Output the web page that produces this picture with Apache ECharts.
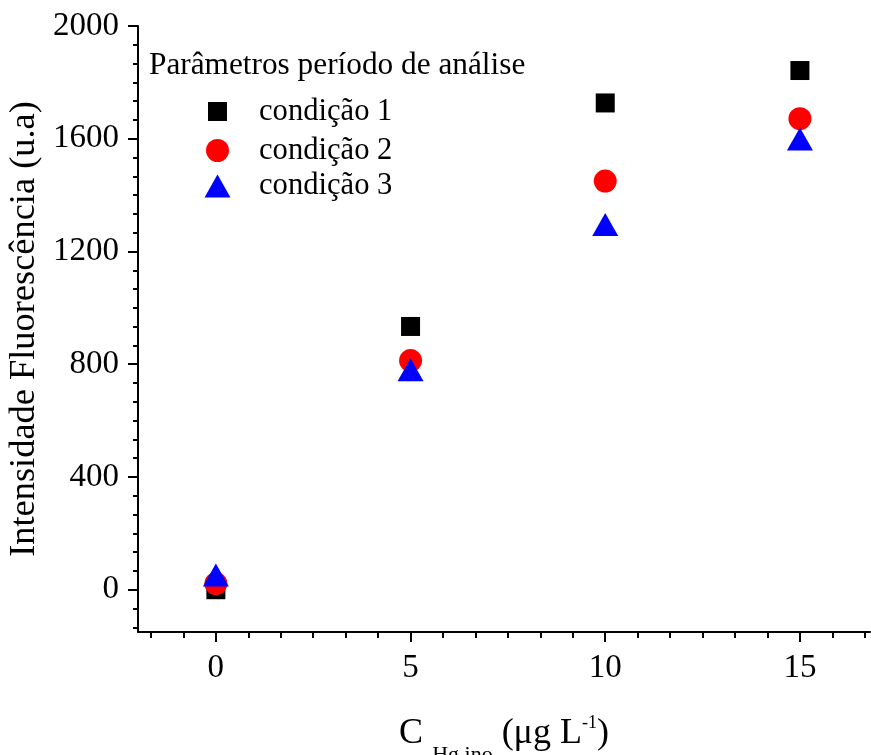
<!DOCTYPE html>
<html>
<head>
<meta charset="utf-8">
<script src="https://cdn.jsdelivr.net/npm/echarts@6/dist/echarts.min.js"></script>
<style>
html,body{margin:0;padding:0;background:#fff;}
#chart{width:871px;height:755px;}
</style>
</head>
<body>
<div id="chart"></div>
<script>
// ---- data ----
var xValues = [0, 5, 10, 15];
var cond1 = [0, 934, 1727, 1842];
var cond2 = [22, 813, 1450, 1671];
var cond3 = [52, 780, 1296, 1599];
var seriesNames = ['condição 1', 'condição 2', 'condição 3'];
var xMajorTicks = [0, 5, 10, 15];
var yMajorTicks = [0, 400, 800, 1200, 1600, 2000];
var legendTitle = 'Parâmetros período de análise';
var yTitle = 'Intensidade Fluorescência (u.a)';

var xMin = -2, xMax = 16.8, yMin = -150, yMax = 2000;
var FONT = '"Liberation Serif", "Times New Roman", serif';

function minorTicks(min, max, step, per) {
  var out = [];
  var k0 = Math.ceil(min / step - 1e-9), k1 = Math.floor(max / step + 1e-9);
  for (var k = k0; k <= k1; k++) {
    if (k % per !== 0) out.push(+(k * step).toFixed(6));
  }
  return out;
}
var xMinor = minorTicks(xMin, xMax, 5 / 6, 6);
var yMinor = minorTicks(yMin, yMax, 400 / 6, 6);

function pairs(ys) { return xValues.map(function (x, i) { return [x, ys[i]]; }); }
function plain(v) { return String(v); }

var chart = echarts.init(document.getElementById('chart'), null, {renderer: 'canvas'});
var axisLineStyle = {color: '#000', width: 2};

chart.setOption({
  animation: false,
  backgroundColor: '#fff',
  textStyle: {fontFamily: FONT, color: '#000'},
  grid: {left: 138, right: 1, top: 26, bottom: 123, containLabel: false, outerBoundsMode: 'none'},
  title: {
    text: legendTitle, left: 149, top: 50, padding: 0,
    textStyle: {fontFamily: FONT, fontSize: 31.3, fontWeight: 'normal', color: '#000'}
  },
  legend: [
    {data: [{name: seriesNames[0], icon: 'rect'}], orient: 'vertical', left: 208, top: 96, padding: 0,
     itemWidth: 19, itemHeight: 19, selectedMode: false,
     textStyle: {fontFamily: FONT, fontSize: 30.6, color: '#000', padding: [0, 0, 0, 27]}},
    {data: [{name: seriesNames[1], icon: 'circle'}], orient: 'vertical', left: 206, top: 135, padding: 0,
     itemWidth: 23, itemHeight: 23, selectedMode: false,
     textStyle: {fontFamily: FONT, fontSize: 30.6, color: '#000', padding: [0, 0, 0, 25]}},
    {data: [{name: seriesNames[2], icon: 'triangle'}], orient: 'vertical', left: 204.5, top: 170.5, padding: 0,
     itemWidth: 26, itemHeight: 23, selectedMode: false,
     textStyle: {fontFamily: FONT, fontSize: 30.6, color: '#000', padding: [0, 0, 0, 23.5]}}
  ],
  xAxis: [
    {
      type: 'value', min: xMin, max: xMax, position: 'bottom',
      name: '{m|C }{s|Hg ino}{m| (μg L}{p|-1}{m|)}',
      nameLocation: 'middle', nameGap: 62,
      nameTextStyle: {
        fontFamily: FONT, color: '#000',
        rich: {
          m: {fontFamily: FONT, fontSize: 36, color: '#000', lineHeight: 80, verticalAlign: 'middle'},
          s: {fontFamily: FONT, fontSize: 22, color: '#000', verticalAlign: 'middle', padding: [42, 0, 0, 0]},
          p: {fontFamily: FONT, fontSize: 18, color: '#000', verticalAlign: 'middle', padding: [0, 0, 22, 0]}
        }
      },
      axisLine: {show: true, onZero: false, lineStyle: axisLineStyle},
      axisTick: {show: true, inside: false, length: 10, customValues: xMajorTicks, lineStyle: {color: '#000', width: 2}},
      axisLabel: {show: true, customValues: xMajorTicks, formatter: plain, margin: 20, fontFamily: FONT, fontSize: 33, color: '#000'},
      splitLine: {show: false}
    },
    {
      type: 'value', min: xMin, max: xMax, position: 'bottom', gridIndex: 0,
      axisLine: {show: false, onZero: false},
      axisTick: {show: true, inside: false, length: 6, customValues: xMinor, lineStyle: {color: '#000', width: 2}},
      axisLabel: {show: false},
      splitLine: {show: false}
    }
  ],
  yAxis: [
    {
      type: 'value', min: yMin, max: yMax, position: 'left',
      name: yTitle, nameLocation: 'middle', nameGap: 92, nameRotate: 90,
      nameTextStyle: {fontFamily: FONT, fontSize: 36.4, color: '#000'},
      axisLine: {show: true, onZero: false, lineStyle: axisLineStyle},
      axisTick: {show: true, inside: false, length: 10, customValues: yMajorTicks, lineStyle: {color: '#000', width: 2}},
      axisLabel: {show: true, customValues: yMajorTicks, formatter: plain, margin: 19, fontFamily: FONT, fontSize: 33, color: '#000'},
      splitLine: {show: false}
    },
    {
      type: 'value', min: yMin, max: yMax, position: 'left', gridIndex: 0,
      axisLine: {show: false, onZero: false},
      axisTick: {show: true, inside: false, length: 5, customValues: yMinor, lineStyle: {color: '#000', width: 2}},
      axisLabel: {show: false},
      splitLine: {show: false}
    }
  ],
  series: [
    {name: seriesNames[0], type: 'scatter', xAxisIndex: 0, yAxisIndex: 0, data: pairs(cond1),
     symbol: 'rect', symbolSize: 19, itemStyle: {color: '#000', opacity: 1}},
    {name: seriesNames[1], type: 'scatter', xAxisIndex: 0, yAxisIndex: 0, data: pairs(cond2),
     symbol: 'circle', symbolSize: 23, itemStyle: {color: '#ff0000', opacity: 1}},
    {name: seriesNames[2], type: 'scatter', xAxisIndex: 0, yAxisIndex: 0, data: pairs(cond3),
     symbol: 'triangle', symbolSize: [26, 23], itemStyle: {color: '#0000ff', opacity: 1}}
  ]
});
</script>
</body>
</html>
